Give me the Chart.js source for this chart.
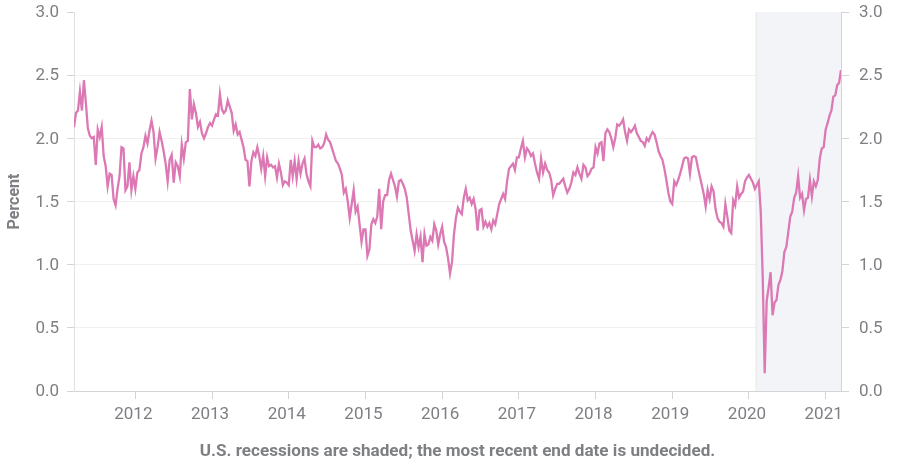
<!DOCTYPE html>
<html>
<head>
<meta charset="utf-8">
<title>Percent</title>
<style>
  html, body { margin: 0; padding: 0; background: #fff; }
  #wrap { width: 900px; height: 466px; }
</style>
<script src="https://cdn.jsdelivr.net/npm/chart.js@4"></script>
</head>
<body>
<div id="wrap"><canvas id="chart" width="900" height="466"></canvas></div>
<script>
// values, one list per calendar year
const values2011 = [2.09,2.20,2.22,2.37,2.22,2.46,2.28,2.08,2.02,2.00,2.01,1.79,2.07,2.01,2.09,1.86,1.78,1.62,1.72,1.71,1.52,1.47,1.60,1.70,1.93,1.92,1.59,1.62,1.81,1.59,1.70];
const values2012 = [1.60,1.73,1.75,1.88,1.93,2.02,1.96,2.06,2.14,2.05,1.84,1.93,2.05,1.98,1.90,1.80,1.66,1.83,1.87,1.65,1.81,1.78,1.70,1.95,1.84,1.97,1.98,2.39,2.15,2.27,2.20,2.09,2.13,2.04,2.00,2.04,2.09,2.12];
const values2013 = [2.10,2.15,2.19,2.18,2.35,2.23,2.20,2.22,2.30,2.25,2.20,2.06,2.11,2.03,2.05,1.99,1.93,1.83,1.82,1.62,1.82,1.89,1.86,1.93,1.86,1.76,1.86,1.70,1.85,1.78,1.79,1.77,1.78,1.69,1.80,1.73,1.63,1.66,1.65];
const values2014 = [1.63,1.83,1.70,1.82,1.68,1.82,1.72,1.80,1.84,1.72,1.66,1.62,1.98,1.93,1.93,1.95,1.92,1.93,1.96,2.03,1.99,1.97,1.92,1.87,1.82,1.80,1.76,1.71,1.57,1.60,1.50,1.37,1.48,1.59,1.42,1.46,1.32,1.18,1.28];
const values2015 = [1.28,1.07,1.12,1.32,1.36,1.33,1.38,1.60,1.28,1.50,1.55,1.55,1.67,1.72,1.67,1.62,1.54,1.66,1.67,1.64,1.60,1.53,1.40,1.27,1.19,1.11,1.24,1.14,1.22,1.02,1.24,1.15,1.16,1.22,1.19,1.32,1.27,1.16,1.24];
const values2016 = [1.30,1.18,1.14,1.05,0.93,1.02,1.24,1.37,1.45,1.42,1.40,1.53,1.60,1.51,1.53,1.48,1.52,1.44,1.27,1.43,1.44,1.30,1.34,1.30,1.33,1.28,1.35,1.32,1.40,1.48,1.52,1.56,1.52,1.66,1.76,1.78,1.80,1.75,1.85];
const values2017 = [1.85,1.92,1.98,1.85,1.92,1.90,1.86,1.88,1.80,1.73,1.68,1.84,1.73,1.80,1.75,1.73,1.67,1.55,1.60,1.64,1.64,1.66,1.68,1.62,1.57,1.60,1.65,1.73,1.71,1.77,1.72,1.68,1.79,1.77,1.70,1.72,1.76,1.77];
const values2018 = [1.93,1.88,1.96,1.97,1.82,2.04,2.07,2.05,2.00,1.93,2.00,2.11,2.10,2.12,2.15,2.05,1.98,2.07,2.05,2.07,2.10,2.04,2.01,1.98,1.97,1.94,2.00,1.98,2.02,2.05,2.03,1.97,1.90,1.86,1.83,1.76,1.67,1.57,1.50];
const values2019 = [1.48,1.66,1.63,1.67,1.72,1.78,1.84,1.85,1.84,1.72,1.85,1.86,1.85,1.77,1.70,1.63,1.56,1.46,1.59,1.52,1.62,1.58,1.44,1.37,1.34,1.33,1.30,1.48,1.38,1.27,1.25,1.51,1.47,1.62,1.53,1.56,1.58,1.66,1.69];
const values2020 = [1.71,1.68,1.65,1.60,1.63,1.66,1.42,0.90,0.14,0.71,0.82,0.94,0.60,0.70,0.72,0.84,0.88,0.95,1.10,1.14,1.26,1.38,1.42,1.53,1.57,1.70,1.53,1.56,1.43,1.52,1.53,1.67,1.54,1.66,1.62,1.67,1.84,1.92,1.93];
const values2021 = [2.07,2.12,2.18,2.22,2.33,2.34,2.42,2.44,2.54];

const yearSeries = [values2011,values2012,values2013,values2014,values2015,values2016,values2017,values2018,values2019,values2020,values2021];
const seriesStart = 2011.2;
const seriesEnd = 2021.2;
const firstYear = 2011;

const yearTicks = [2012,2013,2014,2015,2016,2017,2018,2019,2020,2021];
const percentTicks = [0,0.5,1,1.5,2,2.5,3];
const recessionStart = 2020.1;

const axisTitle = 'Percent';
const caption = 'U.S. recessions are shaded; the most recent end date is undecided.';

// each year's readings are evenly spaced through that year
const points = [];
yearSeries.forEach((vals, k) => {
  const from = k === 0 ? seriesStart : firstYear + k;
  const last = k === yearSeries.length - 1;
  const to = last ? seriesEnd : firstYear + k + 1;
  const steps = last ? vals.length - 1 : vals.length;
  vals.forEach((v, i) => points.push({ x: from + (to - from) * i / steps, y: v }));
});

const greyText = '#7d7f83';

// recession band, placed through the x scale
const recessionBand = {
  id: 'recessionBand',
  beforeDatasetsDraw(chart) {
    const { ctx, chartArea, scales } = chart;
    const left = scales.x.getPixelForValue(recessionStart);
    ctx.save();
    ctx.fillStyle = '#f3f4f8';
    ctx.fillRect(left, chartArea.top, chartArea.right - left, chartArea.bottom - chartArea.top);
    ctx.strokeStyle = '#e3e3e3';
    ctx.lineWidth = 1;
    ctx.beginPath();
    ctx.moveTo(left - 0.5, chartArea.top);
    ctx.lineTo(left - 0.5, chartArea.bottom);
    ctx.stroke();
    ctx.restore();
  }
};

// the y scales add their tick padding above the plot; drop it so the top stays put
function fitYScale(scale, width) {
  scale.width = width;
  scale.paddingTop = 0;
  scale.paddingBottom = 0;
}

new Chart(document.getElementById('chart').getContext('2d'), {
  type: 'line',
  data: {
    datasets: [{
      data: points,
      borderColor: '#dc78b3',
      borderWidth: 2.3,
      pointRadius: 0,
      tension: 0,
      yAxisID: 'y'
    }]
  },
  plugins: [recessionBand],
  options: {
    responsive: false,
    animation: false,
    layout: { padding: { top: 12 } },
    plugins: { legend: { display: false }, tooltip: { enabled: false } },
    scales: {
      x: {
        type: 'linear',
        min: seriesStart,
        max: seriesEnd,
        afterBuildTicks(scale) { scale.ticks = yearTicks.map(v => ({ value: v })); },
        afterFit(scale) { scale.height = 75; },
        border: { color: '#d4d4d4' },
        grid: { drawOnChartArea: false, tickLength: 8, tickColor: '#d4d4d4' },
        ticks: {
          autoSkip: false, maxRotation: 0, padding: 6, labelOffset: -2,
          color: greyText, font: { family: 'Roboto', size: 17 },
          callback: v => String(v)
        },
        title: {
          display: true, text: caption, color: greyText,
          font: { family: 'Roboto', size: 17.1, weight: 'bold' },
          padding: { top: 0, bottom: 4 }
        }
      },
      y: {
        position: 'left',
        min: 0,
        max: 3,
        afterBuildTicks(scale) { scale.ticks = percentTicks.map(v => ({ value: v })); },
        afterFit(scale) { fitYScale(scale, 74); },
        border: { color: '#e0e0e0' },
        grid: {
          tickLength: 7, tickColor: '#d4d4d4',
          color: c => (c.tick.value === 0 || c.tick.value === 3) ? 'rgba(0,0,0,0)' : '#f0f0f0'
        },
        ticks: {
          padding: 8, labelOffset: 1, color: greyText, font: { family: 'Roboto', size: 17 },
          callback: v => v.toFixed(1)
        },
        title: {
          display: true, text: axisTitle, color: greyText,
          font: { family: 'Roboto', size: 16, weight: 'bold' },
          padding: { top: 5, bottom: 0 }
        }
      },
      yRight: {
        position: 'right',
        min: 0,
        max: 3,
        afterBuildTicks(scale) { scale.ticks = percentTicks.map(v => ({ value: v })); },
        afterFit(scale) { fitYScale(scale, 59); },
        border: { color: '#d4d4d4' },
        grid: { drawOnChartArea: false, tickLength: 8, tickColor: '#d4d4d4' },
        ticks: {
          padding: 10, labelOffset: 1, color: greyText, font: { family: 'Roboto', size: 17 },
          callback: v => v.toFixed(1)
        }
      }
    }
  }
});
</script>
</body>
</html>
